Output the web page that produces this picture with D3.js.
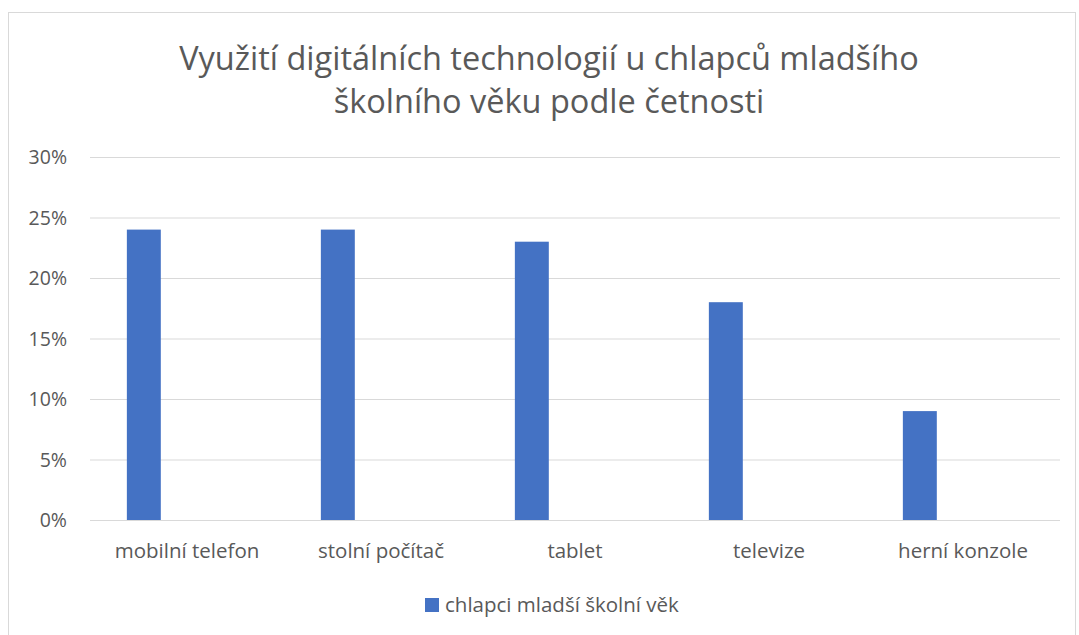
<!DOCTYPE html>
<html>
<head>
<meta charset="utf-8">
<script src="https://cdn.jsdelivr.net/npm/d3@7"></script>
<style>
  body { margin: 0; background: #fff; }
  text { font-family: "Open Sans", sans-serif; fill: #595959; }
</style>
</head>
<body>
<svg id="chart" width="1079" height="635"></svg>
<script>
const categories = ["mobilní telefon", "stolní počítač", "tablet", "televize", "herní konzole"];
const values = [24, 24, 23, 18, 9];
const yTicks = [0, 5, 10, 15, 20, 25, 30];
const titleLines = ["Využití digitálních technologií u chlapců mladšího", "školního věku podle četnosti"];
const seriesName = "chlapci mladší školní věk";

const svg = d3.select("#chart");
const W = 1079, H = 635;
const plotLeft = 90, plotRight = 1060, plotTop = 157, plotBottom = 520;

svg.append("rect")
    .attr("width", W).attr("height", H)
    .attr("fill", "#fff");

// chart frame
svg.append("rect")
    .attr("x", 8.5).attr("y", 12.5)
    .attr("width", 1067).attr("height", 640)
    .attr("fill", "none")
    .attr("stroke", "#d9d9d9");

// title
svg.append("g").selectAll("text")
    .data(titleLines)
    .join("text")
    .attr("x", 549)
    .attr("y", (d, i) => 70 + i * 43)
    .attr("text-anchor", "middle")
    .style("font-size", "32.5px")
    .text(d => d);

const x = d3.scaleBand().domain(categories).range([plotLeft, plotRight]);
const y = d3.scaleLinear().domain([0, 30]).range([plotBottom, plotTop]);

// gridlines
svg.append("g").selectAll("line")
    .data(yTicks)
    .join("line")
    .attr("x1", plotLeft).attr("x2", plotRight)
    .attr("y1", d => y(d) + 0.5).attr("y2", d => y(d) + 0.5)
    .attr("stroke", "#d9d9d9")
    .attr("stroke-width", 1);

// y tick labels
svg.append("g").selectAll("text")
    .data(yTicks)
    .join("text")
    .attr("x", 67)
    .attr("y", d => y(d) + 7)
    .attr("text-anchor", "end")
    .style("font-size", "19.5px")
    .text(d => d + "%");

// bars (first slot of the cluster, as in the original)
const barOffset = x.bandwidth() * 0.19, barWidth = x.bandwidth() * 0.175;
svg.append("g").selectAll("rect")
    .data(values)
    .join("rect")
    .attr("x", (d, i) => x(categories[i]) + barOffset)
    .attr("y", d => y(d))
    .attr("width", barWidth)
    .attr("height", d => y(0) - y(d))
    .attr("fill", "#4472c4");

// category labels
svg.append("g").selectAll("text")
    .data(categories)
    .join("text")
    .attr("x", d => x(d) + x.bandwidth() / 2)
    .attr("y", 558)
    .attr("text-anchor", "middle")
    .style("font-size", "20.5px")
    .text(d => d);

// legend
const legend = svg.append("g").attr("transform", "translate(425,598)");
legend.append("rect")
    .attr("width", 14).attr("height", 14)
    .attr("fill", "#4472c4");
legend.append("text")
    .attr("x", 20).attr("y", 14)
    .style("font-size", "20.5px")
    .text(seriesName);
</script>
</body>
</html>
